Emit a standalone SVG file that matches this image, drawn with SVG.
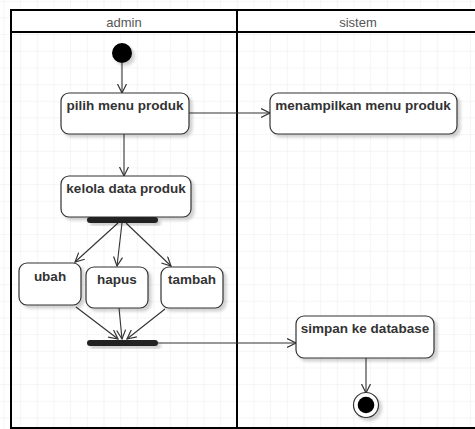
<svg xmlns="http://www.w3.org/2000/svg" width="475" height="429" viewBox="0 0 475 429">
  <defs>
    <pattern id="grid" patternUnits="userSpaceOnUse" x="3.5" y="0.8" width="16.667" height="16.667">
      <path d="M16.667,0 L0,0 L0,16.667" fill="none" stroke="#ececec" stroke-width="1"/>
    </pattern>
    <filter id="sh" x="-20%" y="-20%" width="150%" height="160%">
      <feDropShadow dx="3" dy="3" stdDeviation="1.5" flood-color="#000" flood-opacity="0.18"/>
    </filter>
    <marker id="arr" markerUnits="userSpaceOnUse" markerWidth="12" markerHeight="12" refX="9.5" refY="5" orient="auto">
      <path d="M0.5,0.5 L9.5,5 L0.5,9.5" fill="none" stroke="#333" stroke-width="1.2"/>
    </marker>
  </defs>
  <style>
    .node rect { fill: #fff; stroke: #333; stroke-width: 1.2; filter: url(#sh); }
    .node text { font-family: "Liberation Sans", Arial, sans-serif; font-size: 13.5px; font-weight: bold; fill: #333; text-anchor: middle; }
    .lane { font-family: "Liberation Sans", Arial, sans-serif; font-size: 13px; fill: #555; text-anchor: middle; }
    .bar { fill: #222; filter: url(#sh); }
    .conn path { fill: none; stroke: #333; stroke-width: 1.1; marker-end: url(#arr); }
    .conn path.plain { marker-end: none; }
  </style>
  <rect x="0" y="0" width="475" height="429" fill="#fff"/>
  <rect x="0" y="0" width="475" height="429" fill="url(#grid)"/>

  <g id="swimlanes">
    <rect x="11" y="10" width="475" height="418" fill="none" stroke="#000" stroke-width="2"/>
    <rect x="12" y="11" width="470" height="21" fill="#fff"/>
    <line x1="11" y1="32" x2="476" y2="32" stroke="#000" stroke-width="2"/>
    <line x1="237" y1="10" x2="237" y2="428" stroke="#000" stroke-width="2"/>
    <text class="lane" x="124" y="26.5">admin</text>
    <text class="lane" x="358" y="26.5">sistem</text>
  </g>

  <g id="connectors" class="conn">
    <path d="M122,63 L122,93"/>
    <path d="M124,134 L124,176"/>
    <path d="M189,113 L270,113"/>
    <path d="M118,223 L75,262"/>
    <path d="M122,223 L117,266"/>
    <path d="M126,223 L171,266"/>
    <path d="M76,307 L118,339"/>
    <path d="M119,308 L122,339"/>
    <path d="M165,309 L127,339"/>
    <path d="M158,343 L296,343"/>
    <path d="M366,358 L366,393"/>
  </g>

  <g id="start">
    <circle cx="122" cy="53" r="10" fill="#000" filter="url(#sh)"/>
  </g>

  <g id="pilih" class="node">
    <rect x="61" y="93" width="128" height="41" rx="8"/>
    <text x="125" y="110">pilih menu produk</text>
  </g>

  <g id="menampilkan" class="node">
    <rect x="270" y="93" width="187" height="41" rx="8"/>
    <text x="363" y="110">menampilkan menu produk</text>
  </g>

  <g id="kelola" class="node">
    <rect x="61" y="176" width="130" height="41" rx="8"/>
    <text x="126" y="193">kelola data produk</text>
  </g>

  <g id="fork">
    <rect class="bar" x="87" y="217" width="71" height="6" rx="3"/>
  </g>

  <g id="ubah" class="node">
    <rect x="19" y="263" width="62" height="42" rx="8"/>
    <text x="50" y="281">ubah</text>
  </g>

  <g id="hapus" class="node">
    <rect x="86" y="267" width="62" height="41" rx="8"/>
    <text x="117" y="284">hapus</text>
  </g>

  <g id="tambah" class="node">
    <rect x="161" y="267" width="62" height="41" rx="8"/>
    <text x="192" y="284">tambah</text>
  </g>

  <g id="join">
    <rect class="bar" x="87" y="340" width="71" height="6" rx="3"/>
  </g>

  <g id="simpan" class="node">
    <rect x="296" y="316" width="138" height="42" rx="8"/>
    <text x="365" y="333">simpan ke database</text>
  </g>

  <g id="end">
    <circle cx="366" cy="405" r="12.5" fill="#fff" stroke="#333" stroke-width="1.2" filter="url(#sh)"/>
    <circle cx="366" cy="405" r="8.3" fill="#000"/>
  </g>
</svg>
